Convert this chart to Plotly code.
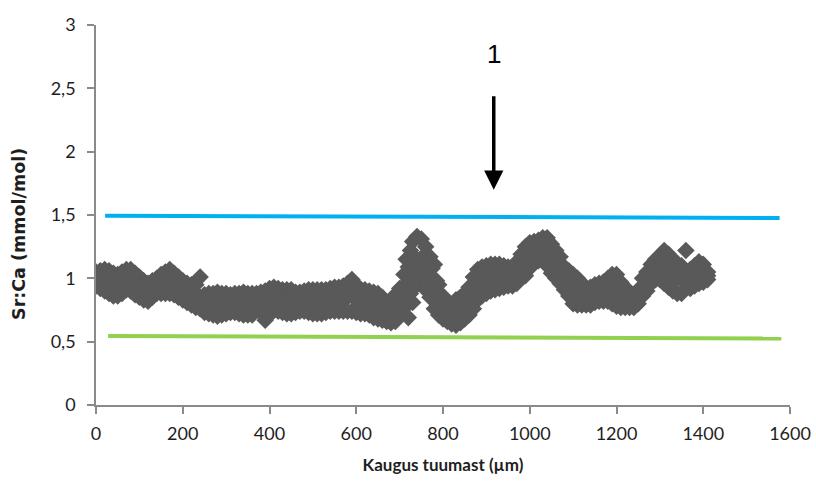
import plotly.graph_objects as go

# distance from nucleus (µm) — sampling positions
dist_um = [0, 10, 20, 30, 40, 50, 60, 70, 80, 90, 100, 110, 120, 130, 140, 150, 160, 170, 180, 190,
           200, 210, 220, 230, 240, 250, 260, 270, 280, 290, 300, 310, 320, 330, 340, 350, 360, 370, 380, 390,
           400, 410, 420, 430, 440, 450, 460, 470, 480, 490, 500, 510, 520, 530, 540, 550, 560, 570, 580, 590,
           600, 610, 620, 630, 640, 650, 660, 670, 680, 690, 700, 710, 720, 730, 740, 750, 760, 770, 780, 790,
           800, 810, 820, 830, 840, 850, 860, 870, 880, 890, 900, 910, 920, 930, 940, 950, 960, 970, 980, 990,
           1000, 1010, 1020, 1030, 1040, 1050, 1060, 1070, 1080, 1090, 1100, 1110, 1120, 1130, 1140, 1150, 1160,
           1170, 1180, 1190, 1200, 1210, 1220, 1230, 1240, 1250, 1260, 1270, 1280, 1290, 1300, 1310, 1320, 1330,
           1340, 1350, 1360, 1370, 1380, 1390, 1400, 1410]

# Sr:Ca readings (mmol/mol) — upper, middle and lower scatter of the measured band
srca_hi = [1.05, 1.06, 1.07, 1.06, 1.04, 1.03, 1.05, 1.07, 1.07, 1.04, 1.01, 0.98, 0.96, 0.98, 1.00, 1.03, 1.05,
           1.07, 1.04, 1.01, 0.98, 0.96, 0.95, 0.95, 1.01, 0.87, 0.88, 0.88, 0.89, 0.88, 0.88, 0.87, 0.88, 0.88,
           0.89, 0.88, 0.88, 0.88, 0.89, 0.90, 0.92, 0.93, 0.92, 0.91, 0.91, 0.91, 0.89, 0.89, 0.90, 0.91, 0.91,
           0.91, 0.91, 0.91, 0.92, 0.93, 0.93, 0.94, 0.96, 0.99, 0.95, 0.91, 0.91, 0.90, 0.89, 0.88, 0.85, 0.81,
           0.80, 0.87, 0.92, 1.03, 1.09, 1.29, 1.33, 1.31, 1.25, 1.17, 1.11, 0.95, 0.86, 0.80, 0.79, 0.83, 0.85,
           0.88, 0.93, 1.01, 1.07, 1.09, 1.10, 1.11, 1.11, 1.11, 1.10, 1.09, 1.09, 1.13, 1.19, 1.25, 1.28, 1.29,
           1.30, 1.32, 1.32, 1.27, 1.22, 1.17, 1.09, 1.06, 1.03, 1.00, 0.96, 0.93, 0.93, 0.95, 0.96, 0.97, 1.00,
           1.03, 1.03, 0.97, 0.93, 0.88, 0.87, 0.91, 1.00, 1.05, 1.11, 1.15, 1.18, 1.22, 1.19, 1.14, 1.12, 1.10,
           1.22, 1.07, 1.10, 1.13, 1.11, 1.05]
srca_mid = [0.99, 0.99, 0.98, 0.97, 0.95, 0.94, 0.96, 0.99, 0.98, 0.95, 0.93, 0.90, 0.89, 0.91, 0.94, 0.95, 0.96,
            0.97, 0.95, 0.93, 0.90, 0.88, 0.87, 0.86, 0.85, 0.81, 0.80, 0.79, 0.79, 0.79, 0.80, 0.80, 0.80, 0.80,
            0.80, 0.79, 0.79, 0.82, 0.81, 0.80, 0.81, 0.84, 0.83, 0.82, 0.81, 0.81, 0.81, 0.81, 0.82, 0.82, 0.81,
            0.81, 0.81, 0.82, 0.83, 0.83, 0.84, 0.84, 0.85, 0.86, 0.84, 0.82, 0.81, 0.80, 0.79, 0.78, 0.76, 0.74,
            0.72, 0.76, 0.83, 0.91, 0.89, 1.05, 1.15, 1.16, 1.08, 1.01, 0.93, 0.83, 0.77, 0.73, 0.71, 0.72, 0.75,
            0.78, 0.82, 0.88, 0.95, 0.97, 0.99, 1.00, 1.01, 1.01, 1.01, 1.02, 1.02, 1.05, 1.10, 1.13, 1.18, 1.21,
            1.22, 1.23, 1.21, 1.15, 1.11, 1.06, 1.00, 0.96, 0.92, 0.89, 0.87, 0.86, 0.86, 0.88, 0.89, 0.90, 0.91,
            0.91, 0.90, 0.87, 0.85, 0.83, 0.82, 0.85, 0.93, 0.97, 1.03, 1.07, 1.08, 1.09, 1.06, 1.02, 1.00, 0.99,
            1.04, 0.99, 1.02, 1.04, 1.04, 1.02]
srca_lo = [0.94, 0.92, 0.90, 0.88, 0.86, 0.86, 0.88, 0.91, 0.90, 0.87, 0.85, 0.83, 0.82, 0.85, 0.88, 0.88, 0.88,
           0.88, 0.87, 0.85, 0.83, 0.81, 0.79, 0.77, 0.76, 0.73, 0.72, 0.71, 0.70, 0.71, 0.72, 0.73, 0.73, 0.72,
           0.71, 0.71, 0.71, 0.76, 0.73, 0.67, 0.71, 0.75, 0.74, 0.73, 0.72, 0.72, 0.73, 0.74, 0.74, 0.73, 0.72,
           0.72, 0.72, 0.73, 0.74, 0.74, 0.74, 0.74, 0.74, 0.74, 0.73, 0.72, 0.72, 0.71, 0.69, 0.68, 0.67, 0.66,
           0.65, 0.66, 0.73, 0.80, 0.69, 0.81, 0.95, 1.02, 0.91, 0.85, 0.76, 0.71, 0.68, 0.66, 0.64, 0.63, 0.65,
           0.68, 0.71, 0.76, 0.83, 0.86, 0.88, 0.90, 0.91, 0.92, 0.93, 0.94, 0.94, 0.96, 1.01, 1.02, 1.08, 1.14,
           1.14, 1.14, 1.10, 1.04, 1.00, 0.96, 0.91, 0.86, 0.80, 0.79, 0.79, 0.79, 0.79, 0.81, 0.82, 0.82, 0.82,
           0.80, 0.78, 0.77, 0.77, 0.77, 0.77, 0.80, 0.86, 0.90, 0.96, 0.99, 0.99, 0.96, 0.93, 0.90, 0.88, 0.88,
           0.92, 0.92, 0.94, 0.96, 0.97, 0.99]

# extra readings on the steep flanks of the 740 µm peak
flank_x = [705, 715, 715, 715, 725, 725, 725, 735, 735, 745, 765, 775, 775, 785, 785, 795, 795, 865, 875]
flank_y = [0.86, 0.78, 0.96, 1.15, 0.88, 1.06, 1.22, 0.98, 1.12, 1.08, 1.00, 0.92, 1.08, 0.82, 0.98, 0.76, 0.86,
           0.85, 0.92]

# reference lines (start/end positions and values)
upper_x = [21, 1576]
upper_y = [1.495, 1.476]
lower_x = [28, 1580]
lower_y = [0.545, 0.525]

# axis ticks
x_ticks = [0, 200, 400, 600, 800, 1000, 1200, 1400, 1600]
y_ticks = [0, 0.5, 1, 1.5, 2, 2.5, 3]

# texts
x_title = "<b>Kaugus tuumast (µm)</b>"
y_title = "<b>Sr:Ca (mmol/mol)</b>"
marker_label = "1"
marker_x = 917
label_y = 2.77
arrow_top = 2.45
arrow_tip = 1.70

FONT = "Lato, 'Open Sans', sans-serif"
TXT = "#1e1e1e"
AX = "#8a8a8a"

fig = go.Figure()

fig.add_trace(go.Scatter(
    x=upper_x, y=upper_y, mode="lines",
    line=dict(color="#00b0f0", width=4), showlegend=False, hoverinfo="skip"))
fig.add_trace(go.Scatter(
    x=lower_x, y=lower_y, mode="lines",
    line=dict(color="#92d050", width=4), showlegend=False, hoverinfo="skip"))

fig.add_trace(go.Scatter(
    x=dist_um + dist_um + dist_um + flank_x,
    y=srca_hi + srca_mid + srca_lo + flank_y,
    mode="markers",
    marker=dict(symbol="diamond", size=13.5, color="#595959", line=dict(width=0)),
    showlegend=False))

fig.add_annotation(x=marker_x, y=label_y, xref="x", yref="y", text=marker_label,
                   showarrow=False, font=dict(family="'Liberation Sans', Arial, sans-serif", size=26, color="#000"))
fig.add_annotation(x=marker_x, y=arrow_tip, ax=marker_x, ay=arrow_top, xref="x", yref="y",
                   axref="x", ayref="y", text="", showarrow=True, arrowhead=2, arrowsize=1.1,
                   arrowwidth=3.5, arrowcolor="#000")

# y-axis title placed as rotated text left of the tick labels
fig.add_annotation(x=-0.111, y=0.45, xref="paper", yref="paper", text=y_title, textangle=-90,
                   showarrow=False, xanchor="center", yanchor="middle",
                   font=dict(family="'DejaVu Sans', sans-serif", size=17.5, color=TXT))

fig.update_layout(
    width=816, height=482,
    margin=dict(l=96, r=26, t=25, b=77, autoexpand=False),
    paper_bgcolor="white", plot_bgcolor="white",
    separators=", ",
    font=dict(family=FONT, size=18, color=TXT),
    xaxis=dict(range=[0, 1600], tickvals=x_ticks, showgrid=False, zeroline=False, automargin=False,
               showline=True, linecolor=AX, linewidth=1.5, ticks="outside", ticklen=7,
               tickcolor=AX, tickwidth=1.5, tickfont=dict(size=18, color=TXT),
               ticklabelstandoff=5,
               title=dict(text=x_title, font=dict(size=17, color=TXT), standoff=16)),
    yaxis=dict(range=[0, 3], tickvals=y_ticks, showgrid=False, zeroline=False, automargin=False,
               showline=True, linecolor=AX, linewidth=1.5, ticks="outside", ticklen=7,
               tickcolor=AX, tickwidth=1.5, tickfont=dict(size=18, color=TXT),
               ticklabelstandoff=8),
)

fig.write_html("out.html")
